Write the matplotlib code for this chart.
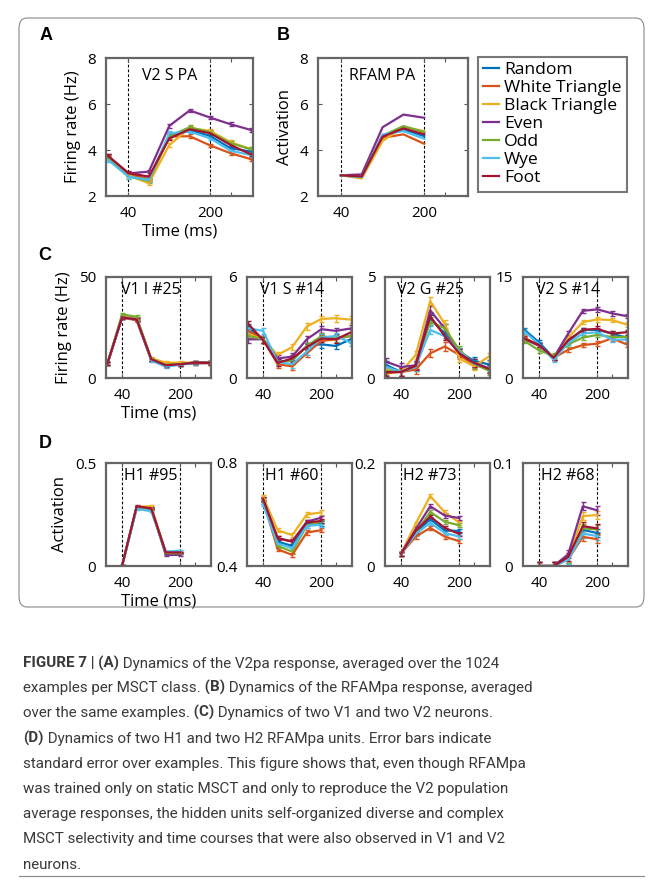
import matplotlib
matplotlib.use('Agg')
import matplotlib.pyplot as plt
from matplotlib.patches import FancyBboxPatch
from matplotlib.lines import Line2D

plt.rcParams['font.family'] = ['Open Sans', 'DejaVu Sans']

W, H = 659, 883

# классы стимулов и цвета (порядок MATLAB)
classes = ['Random', 'White Triangle', 'Black Triangle', 'Even', 'Odd', 'Wye', 'Foot']
colors = ['#0072BD', '#D95319', '#EDB120', '#7E2F8E', '#77AC30', '#4DBEEE', '#A2142F']

t_full = [0, 40, 80, 120, 160, 200, 240, 280]
t_short = [40, 80, 120, 160, 200]

# A: V2 S PA
a_vals = [
    [3.70, 2.95, 2.72, 4.65, 4.87, 4.61, 4.08, 3.93],
    [3.70, 2.95, 2.72, 4.58, 4.60, 4.20, 3.86, 3.60],
    [3.68, 2.90, 2.55, 4.22, 4.95, 4.83, 4.34, 4.03],
    [3.74, 2.98, 3.06, 5.05, 5.72, 5.41, 5.12, 4.87],
    [3.66, 2.84, 2.66, 4.60, 4.99, 4.77, 4.30, 4.03],
    [3.57, 2.84, 2.70, 4.73, 4.80, 4.51, 3.97, 3.78],
    [3.74, 3.00, 2.84, 4.51, 4.90, 4.73, 4.22, 3.81],
]
# B: RFAM PA
b_vals = [
    [2.90, 2.82, 4.63, 4.90, 4.60],
    [2.90, 2.80, 4.53, 4.68, 4.27],
    [2.90, 2.76, 4.39, 5.00, 4.82],
    [2.90, 2.94, 4.99, 5.54, 5.40],
    [2.90, 2.82, 4.62, 5.04, 4.78],
    [2.90, 2.82, 4.68, 4.82, 4.49],
    [2.90, 2.85, 4.58, 4.94, 4.68],
]
# C1: V1 I #25
c1_vals = [
    [7.2, 30.0, 29.5, 9.3, 6.3, 6.8, 7.4, 7.5],
    [7.2, 30.0, 28.5, 9.0, 6.5, 7.0, 7.2, 7.4],
    [7.2, 30.5, 29.5, 9.8, 7.6, 7.6, 7.6, 7.6],
    [7.2, 30.0, 29.0, 9.3, 6.3, 6.8, 7.8, 7.8],
    [7.2, 31.5, 30.3, 9.3, 6.5, 6.8, 7.6, 7.6],
    [7.2, 30.0, 29.0, 8.6, 5.6, 6.6, 7.4, 7.4],
    [7.2, 30.0, 29.0, 9.3, 6.3, 6.8, 7.6, 7.4],
]
# C2: V1 S #14
c2_vals = [
    [3.00, 2.30, 0.95, 1.05, 1.90, 2.00, 1.90, 2.30],
    [2.80, 2.30, 0.82, 0.69, 1.47, 2.20, 2.30, 2.50],
    [2.60, 2.30, 1.37, 1.84, 3.06, 3.51, 3.55, 3.47],
    [2.30, 2.30, 1.16, 1.27, 2.30, 2.90, 2.80, 2.94],
    [2.50, 2.30, 0.95, 1.05, 1.90, 2.49, 2.35, 2.50],
    [2.95, 2.80, 0.95, 0.82, 1.57, 2.40, 2.50, 2.10],
    [3.20, 2.25, 0.90, 1.16, 1.84, 2.35, 2.30, 2.70],
]
# C3: V2 G #25
c3_vals = [
    [0.63, 0.30, 0.63, 2.92, 2.20, 1.30, 0.85, 0.68],
    [0.24, 0.30, 0.41, 1.22, 1.56, 1.14, 0.65, 0.46],
    [0.45, 0.30, 1.14, 3.81, 2.67, 0.97, 0.58, 1.05],
    [0.80, 0.54, 0.63, 3.35, 2.45, 1.25, 0.75, 0.50],
    [0.35, 0.30, 0.55, 2.80, 2.45, 1.39, 0.70, 0.37],
    [0.54, 0.30, 0.55, 2.38, 2.07, 1.30, 0.72, 0.50],
    [0.29, 0.30, 0.60, 3.06, 2.07, 1.22, 0.75, 0.46],
]
# C4: V2 S #14
c4_vals = [
    [7.15, 5.30, 3.00, 5.50, 7.15, 7.15, 6.60, 6.00],
    [5.80, 4.80, 3.00, 4.20, 4.90, 5.10, 5.90, 5.00],
    [6.00, 4.80, 3.00, 6.00, 8.30, 8.70, 8.60, 7.95],
    [5.80, 4.80, 3.00, 6.60, 9.97, 10.20, 9.60, 9.20],
    [5.50, 4.10, 3.30, 5.00, 6.00, 6.40, 6.10, 6.10],
    [6.90, 5.00, 2.70, 5.20, 6.60, 6.80, 5.70, 5.70],
    [5.90, 4.90, 3.00, 5.60, 7.15, 7.30, 6.60, 6.80],
]
# D1: H1 #95
d1_vals = [
    [0.0, 0.285, 0.278, 0.064, 0.066],
    [0.0, 0.285, 0.280, 0.064, 0.064],
    [0.0, 0.287, 0.290, 0.066, 0.066],
    [0.0, 0.285, 0.278, 0.054, 0.054],
    [0.0, 0.285, 0.280, 0.062, 0.062],
    [0.0, 0.277, 0.266, 0.070, 0.074],
    [0.0, 0.290, 0.280, 0.066, 0.066],
]
# D2: H1 #60
d2_vals = [
    [0.650, 0.495, 0.478, 0.562, 0.565],
    [0.655, 0.465, 0.443, 0.530, 0.539],
    [0.669, 0.539, 0.520, 0.600, 0.608],
    [0.660, 0.508, 0.495, 0.572, 0.588],
    [0.655, 0.478, 0.456, 0.556, 0.572],
    [0.640, 0.487, 0.469, 0.556, 0.560],
    [0.660, 0.508, 0.495, 0.569, 0.575],
]
# D3: H2 #73
d3_vals = [
    [0.024, 0.064, 0.091, 0.069, 0.068],
    [0.024, 0.057, 0.074, 0.057, 0.048],
    [0.024, 0.082, 0.136, 0.104, 0.084],
    [0.024, 0.071, 0.116, 0.098, 0.093],
    [0.024, 0.064, 0.105, 0.086, 0.079],
    [0.024, 0.062, 0.084, 0.064, 0.057],
    [0.024, 0.068, 0.096, 0.074, 0.062],
]
# D4: H2 #68
d4_vals = [
    [0.0, 0.0, 0.0070, 0.0350, 0.0320],
    [0.0, 0.0, 0.0065, 0.0283, 0.0260],
    [0.0, 0.0, 0.0075, 0.0485, 0.0495],
    [0.0, 0.0, 0.0114, 0.0580, 0.0540],
    [0.0, 0.0, 0.0070, 0.0365, 0.0355],
    [0.0, 0.0, 0.0060, 0.0316, 0.0290],
    [0.0, 0.0, 0.0088, 0.0387, 0.0365],
]

# стандартная ошибка (на глаз, одна на панель)
errs = {'A': 0.08, 'B': 0.0, 'C1': 0.8, 'C2': 0.2, 'C3': 0.2, 'C4': 0.35,
        'D1': 0.004, 'D2': 0.008, 'D3': 0.004, 'D4': 0.004}

caption = [
    [('FIGURE 7 | (A)', True), (' Dynamics of the V2pa response, averaged over the 1024', False)],
    [('examples per MSCT class.', False), (' (B)', True), (' Dynamics of the RFAMpa response, averaged', False)],
    [('over the same examples.', False), (' (C)', True), (' Dynamics of two V1 and two V2 neurons.', False)],
    [('(D)', True), (' Dynamics of two H1 and two H2 RFAMpa units. Error bars indicate', False)],
    [('standard error over examples. This figure shows that, even though RFAMpa', False)],
    [('was trained only on static MSCT and only to reproduce the V2 population', False)],
    [('average responses, the hidden units self-organized diverse and complex', False)],
    [('MSCT selectivity and time courses that were also observed in V1 and V2', False)],
    [('neurons.', False)],
]

fig = plt.figure(figsize=(W / 100, H / 100), dpi=100)
fig.patch.set_facecolor('white')


def add_ax(x0, y0, x1, y1):
    return fig.add_axes([x0 / W, 1 - y1 / H, (x1 - x0) / W, (y1 - y0) / H])


def panel(ax, t, vals, err, ylim, yticks, label):
    for v, c in zip(vals, colors):
        if err > 0:
            ax.errorbar(t, v, yerr=err, color=c, lw=1.6, elinewidth=1.0, capsize=1.8, capthick=1.0)
        else:
            ax.plot(t, v, color=c, lw=1.6)
    for xv in (40, 200):
        ax.axvline(xv, color='black', lw=0.8, ls=(0, (2.5, 1.8)), zorder=0)
    ax.set_xlim(-4, 284)
    ax.set_ylim(*ylim)
    ax.set_yticks(yticks)
    ax.set_yticklabels([('%g' % y) for y in yticks])
    ax.set_xticks([40, 200, 240])
    ax.set_xticklabels(['40', '200', ''])
    ax.tick_params(direction='in', top=True, right=True, length=3, width=0.8,
                   color='#555555', labelsize=11, pad=7)
    for s in ax.spines.values():
        s.set_color('#666666')
        s.set_linewidth(1.6)
    ax.text(120, ylim[0] + 0.87 * (ylim[1] - ylim[0]), label, ha='center', va='center',
            fontsize=11.5)


axA = add_ax(106, 58, 253, 196)
panel(axA, t_full, a_vals, errs['A'], (2, 8), [2, 4, 6, 8], 'V2 S PA')
axA.set_ylabel('Firing rate (Hz)', fontsize=12, labelpad=5)
axA.set_xlabel('Time (ms)', fontsize=12, labelpad=2)

axB = add_ax(318, 58, 468, 196)
panel(axB, t_short, b_vals, errs['B'], (2, 8), [2, 4, 6, 8], 'RFAM PA')
axB.set_ylabel('Activation', fontsize=12, labelpad=5)

handles = [Line2D([], [], color=c, lw=1.6) for c in colors]
leg = fig.legend(handles, classes, loc='upper left', bbox_to_anchor=(478 / W, 1 - 57 / H),
                 fontsize=12.6, handlelength=0.9, handletextpad=0.3, labelspacing=0.1,
                 borderpad=0.3, borderaxespad=0, fancybox=False, frameon=True)
leg.get_frame().set_edgecolor('#555555')
leg.get_frame().set_linewidth(1.5)

c_left = [106, 247, 385, 523]
c_data = [(c1_vals, 'C1', (0, 50), [0, 50], 'V1 I #25'),
          (c2_vals, 'C2', (0, 6), [0, 6], 'V1 S #14'),
          (c3_vals, 'C3', (0, 5), [0, 5], 'V2 G #25'),
          (c4_vals, 'C4', (0, 15), [0, 15], 'V2 S #14')]
for i, (vals, key, yl, yt, lab) in enumerate(c_data):
    ax = add_ax(c_left[i], 277, c_left[i] + 105, 378)
    panel(ax, t_full, vals, errs[key], yl, yt, lab)
    if i == 0:
        ax.set_ylabel('Firing rate (Hz)', fontsize=12, labelpad=5)
        ax.set_xlabel('Time (ms)', fontsize=12, labelpad=2)

d_data = [(d1_vals, 'D1', (0, 0.5), [0, 0.5], 'H1 #95'),
          (d2_vals, 'D2', (0.4, 0.8), [0.4, 0.8], 'H1 #60'),
          (d3_vals, 'D3', (0, 0.2), [0, 0.2], 'H2 #73'),
          (d4_vals, 'D4', (0, 0.1), [0, 0.1], 'H2 #68')]
for i, (vals, key, yl, yt, lab) in enumerate(d_data):
    ax = add_ax(c_left[i], 463, c_left[i] + 105, 566)
    panel(ax, t_short, vals, errs[key], yl, yt, lab)
    if i == 0:
        ax.set_ylabel('Activation', fontsize=12, labelpad=5)
        ax.set_xlabel('Time (ms)', fontsize=12, labelpad=2)

# буквы панелей
for letter, (x, y) in {'A': (46, 36), 'B': (283, 36), 'C': (45, 255), 'D': (45, 443)}.items():
    fig.text(x / W, 1 - y / H, letter, ha='center', va='center', fontsize=13,
             fontweight='bold', family=['Liberation Sans', 'DejaVu Sans'])

# рамка вокруг рисунка
box = FancyBboxPatch((19 / W, 1 - 607 / H), 625 / W, 589 / H,
                     boxstyle='round,pad=0,rounding_size=0.012', transform=fig.transFigure,
                     fill=False, edgecolor='#888888', lw=0.8)
fig.patches.append(box)
fig.add_artist(Line2D([19 / W, 644 / W], [1 - 876 / H, 1 - 876 / H], color='#888888', lw=0.8))

# подпись
cap_font = dict(fontsize=10.9, family=['Roboto', 'DejaVu Sans'], color='#3a3a3a')
for k, line in enumerate(caption):
    y = 1 - (663 + 25.2 * k) / H
    last = None
    for txt, bold in line:
        w = 'bold' if bold else 'normal'
        if last is None:
            last = fig.text(23 / W, y, txt, ha='left', va='center', fontweight=w, **cap_font)
        else:
            last = plt.annotate(txt, xy=(1, 0), xycoords=last, ha='left', va='bottom',
                                fontweight=w, annotation_clip=False, **cap_font)

fig.savefig('out.png', dpi=100)
